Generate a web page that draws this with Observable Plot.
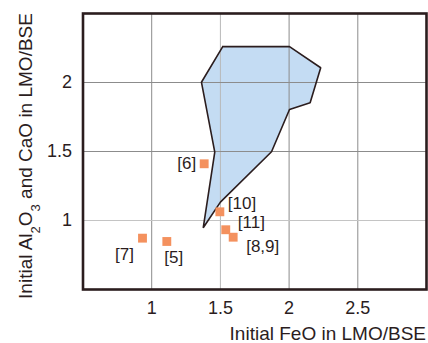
<!DOCTYPE html>
<html><head><meta charset="utf-8">
<script src="https://cdn.jsdelivr.net/npm/d3@7"></script>
<script src="https://cdn.jsdelivr.net/npm/@observablehq/plot@0.6"></script>
<style>body{margin:0;background:#fff} svg{display:block}</style>
</head><body><div id="chart"></div>
<script>
// Region polygon (FeO vs Al2O3+CaO)
const regionFeO  = [1.517, 2.003, 2.23, 2.153, 2.003, 1.872, 1.5, 1.375, 1.459, 1.362];
const regionAlCa = [2.26, 2.26, 2.107, 1.853, 1.804, 1.498, 1.133, 0.947, 1.495, 2.002];
// Literature estimates
const studyLabels = ["[5]", "[6]", "[7]", "[8,9]", "[10]", "[11]"];
const studyFeO    = [1.11, 1.382, 0.933, 1.593, 1.496, 1.539];
const studyAlCa   = [0.848, 1.411, 0.872, 0.879, 1.063, 0.933];
// Axes
const xTicks = [1, 1.5, 2, 2.5];
const yTicks = [1, 1.5, 2];
const xTitle = "Initial FeO in LMO/BSE";
const yTitleParts = [["Initial Al", false], ["2", true], ["O", false], ["3", true], [" and CaO in LMO/BSE", false]];

const region = regionFeO.map((x, i) => ({x, y: regionAlCa[i]}));
const regionClosed = [...region, region[0]];
const studies = studyLabels.map((label, i) => ({label, x: studyFeO[i], y: studyAlCa[i]}));

const placement = {
  "[5]":   {dx: 7,   dy: 16, textAnchor: "middle"},
  "[6]":   {dx: -8,  dy: 0,  textAnchor: "end"},
  "[7]":   {dx: -18, dy: 16, textAnchor: "middle"},
  "[8,9]": {dx: 13,  dy: 9,  textAnchor: "start"},
  "[10]":  {dx: 8,   dy: -8, textAnchor: "start"},
  "[11]":  {dx: 12,  dy: -7, textAnchor: "start"}
};

const ink = "#2b1d1e";
const font = "'Liberation Sans', Arial, Helvetica, sans-serif";

const chart = Plot.plot({
  width: 428,
  height: 343,
  marginLeft: 82.5,
  marginRight: 2,
  marginTop: 13,
  marginBottom: 54,
  style: {fontFamily: font, background: "#fff", color: ink},
  x: {domain: [0.5, 3.0], label: null},
  y: {domain: [0.5, 2.5], label: null},
  marks: [
    Plot.line(regionClosed, {x: "x", y: "y", fill: "#c4dcf3", stroke: "none"}),
    Plot.gridX(xTicks.filter(v => v !== 1.5), {stroke: "#8c8c8c", strokeOpacity: 1, strokeWidth: 1}),
    Plot.gridX(xTicks.filter(v => v === 1.5), {stroke: "#b8b8b8", strokeOpacity: 1, strokeWidth: 1}),
    Plot.gridY(yTicks.filter(v => v !== 1), {stroke: "#8c8c8c", strokeOpacity: 1, strokeWidth: 1}),
    Plot.gridY(yTicks.filter(v => v === 1), {stroke: "#c4c4c4", strokeOpacity: 1, strokeWidth: 1}),
    Plot.line(regionClosed, {x: "x", y: "y", stroke: ink, strokeWidth: 1.6, fill: "none", strokeLinejoin: "miter"}),
    Plot.frame({stroke: ink, strokeWidth: 2.6}),
    Plot.axisX(xTicks, {tickSize: 0, tickPadding: 12, fontSize: 18, label: null, tickFormat: d => String(d)}),
    Plot.axisY(yTicks, {tickSize: 0, tickPadding: 11, fontSize: 18, label: null, tickFormat: d => String(d)}),
    Plot.dot(studies, {x: "x", y: "y", symbol: "square", r: 5, fill: "#f4915e", stroke: "none"}),
    ...studies.map(s => Plot.text([s], {
      x: "x", y: "y", text: "label",
      dx: placement[s.label].dx, dy: placement[s.label].dy,
      textAnchor: placement[s.label].textAnchor,
      fontSize: 17, fill: ink
    }))
  ]
});

const svg = d3.select(chart);
// x-axis title
svg.append("text")
  .attr("x", 426).attr("y", 333)
  .attr("text-anchor", "end").attr("dy", "0.35em")
  .attr("font-size", 19).attr("fill", ink).attr("font-family", font)
  .text(xTitle);
// y-axis title with subscripts
const yt = svg.append("text")
  .attr("transform", "translate(25,156) rotate(-90)")
  .attr("text-anchor", "middle").attr("dy", "0.35em")
  .attr("font-size", 19).attr("fill", ink).attr("font-family", font);
yTitleParts.forEach(([t, sub]) => {
  const ts = yt.append("tspan").text(t);
  if (sub) ts.attr("font-size", 13).attr("baseline-shift", "sub");
});
document.getElementById("chart").appendChild(chart);
</script>
</body></html>
